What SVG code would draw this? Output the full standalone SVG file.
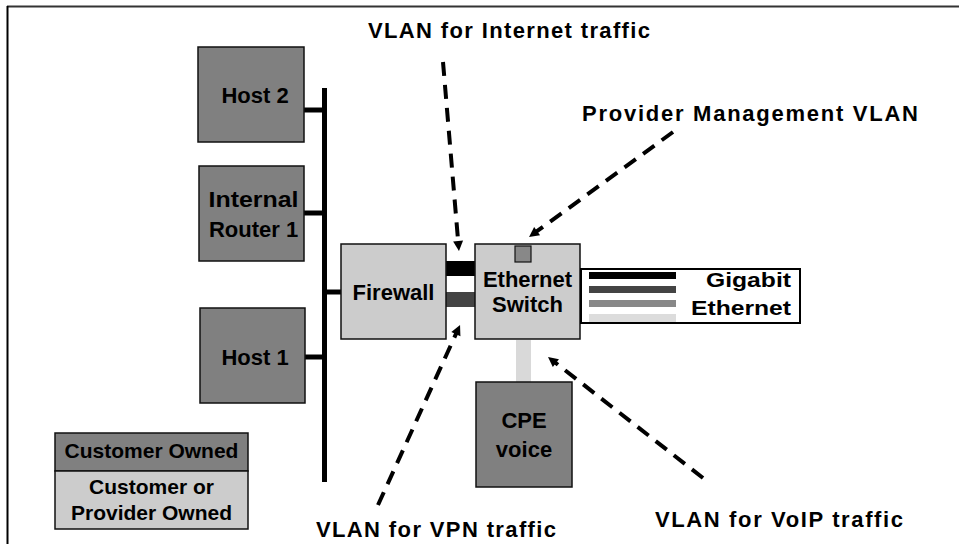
<svg xmlns="http://www.w3.org/2000/svg" width="959" height="544" viewBox="0 0 959 544">
  <style>
    .t { font-family: "Liberation Sans", Arial, Helvetica, sans-serif; font-weight: bold; fill: #000; }
    .lbl { font-size: 22px; }
    .node { font-size: 22px; text-anchor: middle; }
    .leg { font-size: 21px; text-anchor: middle; }
    .dark { fill: #808080; stroke: #111; stroke-width: 1.5; }
    .light { fill: #cccccc; stroke: #111; stroke-width: 1.5; }
    .wire { stroke: #000; stroke-width: 5; fill: none; }
    .dash { stroke: #000; stroke-width: 4; fill: none; stroke-dasharray: 14 9; }
  </style>
  <defs>
    <marker id="arrow" markerUnits="userSpaceOnUse" markerWidth="11" markerHeight="10" refX="1" refY="5" orient="auto" overflow="visible">
      <path d="M0,0 L10,5 L0,10 z" fill="#000"/>
    </marker>
  </defs>

  <rect width="959" height="544" fill="#fff"/>

  <!-- frame -->
  <g id="frame">
    <line x1="7" y1="6.5" x2="959" y2="6.5" stroke="#333" stroke-width="2"/>
    <line x1="7.5" y1="6" x2="7.5" y2="544" stroke="#000" stroke-width="2"/>
  </g>

  <!-- connectors -->
  <g id="connectors">
    <line class="wire" x1="324.5" y1="88" x2="324.5" y2="482"/>
    <line class="wire" x1="304" y1="110" x2="324" y2="110"/>
    <line class="wire" x1="304" y1="213" x2="324" y2="213"/>
    <line class="wire" x1="305" y1="357" x2="324" y2="357"/>
    <line class="wire" x1="324" y1="292" x2="341" y2="292"/>
    <!-- trunk VLAN bars between firewall and switch -->
    <rect x="446" y="261" width="29" height="15" fill="#000"/>
    <rect x="446" y="292" width="29" height="15" fill="#444"/>
    <!-- voice link -->
    <rect x="516" y="340" width="15" height="42" fill="#d9d9d9"/>
    <!-- dashed callouts -->
    <line class="dash" x1="443" y1="62" x2="458.2" y2="242" marker-end="url(#arrow)"/>
    <line class="dash" x1="673" y1="132" x2="536.3" y2="231.7" marker-end="url(#arrow)"/>
    <line class="dash" x1="378" y1="505" x2="456.3" y2="333.2" marker-end="url(#arrow)"/>
    <line class="dash" x1="703" y1="478" x2="555.1" y2="362.5" marker-end="url(#arrow)"/>
  </g>

  <g id="host2">
    <rect class="dark" x="198" y="47" width="106" height="95"/>
    <text class="t node" x="255" y="103">Host 2</text>
  </g>
  <g id="router1">
    <rect class="dark" x="199" y="166" width="105" height="95"/>
    <text class="t node" x="253.5" y="207" textLength="90" lengthAdjust="spacingAndGlyphs">Internal</text>
    <text class="t node" x="253.5" y="237">Router 1</text>
  </g>
  <g id="host1">
    <rect class="dark" x="200" y="308" width="105" height="95"/>
    <text class="t node" x="255" y="365">Host 1</text>
  </g>
  <g id="firewall">
    <rect class="light" x="341" y="244" width="105" height="95"/>
    <text class="t node" x="393.5" y="300" font-size="21">Firewall</text>
  </g>
  <g id="switch">
    <rect class="light" x="475" y="244" width="105" height="95"/>
    <rect x="515" y="246" width="16" height="16" fill="#888" stroke="#111" stroke-width="1.2"/>
    <text class="t node" x="527.5" y="287" font-size="21">Ethernet</text>
    <text class="t node" x="527.5" y="312" font-size="21">Switch</text>
  </g>
  <g id="cpe-voice">
    <rect class="dark" x="476" y="382" width="96" height="105"/>
    <text class="t node" x="524" y="428">CPE</text>
    <text class="t node" x="524" y="457">voice</text>
  </g>

  <!-- Gigabit Ethernet legend -->
  <g id="gige-legend">
    <rect x="581" y="269" width="219" height="54" fill="#fff" stroke="#000" stroke-width="2"/>
    <rect x="589" y="272" width="87" height="7" fill="#000"/>
    <rect x="589" y="286" width="87" height="7" fill="#444"/>
    <rect x="589" y="300" width="87" height="7" fill="#888"/>
    <rect x="589" y="314" width="87" height="8" fill="#dcdcdc"/>
    <text class="t" font-size="21" x="706" y="287" textLength="85" lengthAdjust="spacingAndGlyphs">Gigabit</text>
    <text class="t" font-size="21" x="691" y="315" textLength="100" lengthAdjust="spacingAndGlyphs">Ethernet</text>
  </g>

  <!-- ownership legend -->
  <g id="owner-legend">
    <rect class="dark" x="55" y="433" width="193" height="38" stroke-width="2"/>
    <rect class="light" x="55" y="471" width="193" height="58" stroke-width="2"/>
    <text class="t leg" x="151.5" y="458">Customer Owned</text>
    <text class="t leg" x="151.5" y="494">Customer or</text>
    <text class="t leg" x="151.5" y="520">Provider Owned</text>
  </g>

  <!-- VLAN labels -->
  <g id="labels">
    <text class="t lbl" x="368" y="38" textLength="282" lengthAdjust="spacing">VLAN for Internet traffic</text>
    <text class="t lbl" x="582" y="121" textLength="336" lengthAdjust="spacing">Provider Management VLAN</text>
    <text class="t lbl" x="655" y="527" textLength="248" lengthAdjust="spacing">VLAN for VoIP traffic</text>
    <text class="t lbl" x="316" y="537" textLength="240" lengthAdjust="spacing">VLAN for VPN traffic</text>
  </g>
</svg>
